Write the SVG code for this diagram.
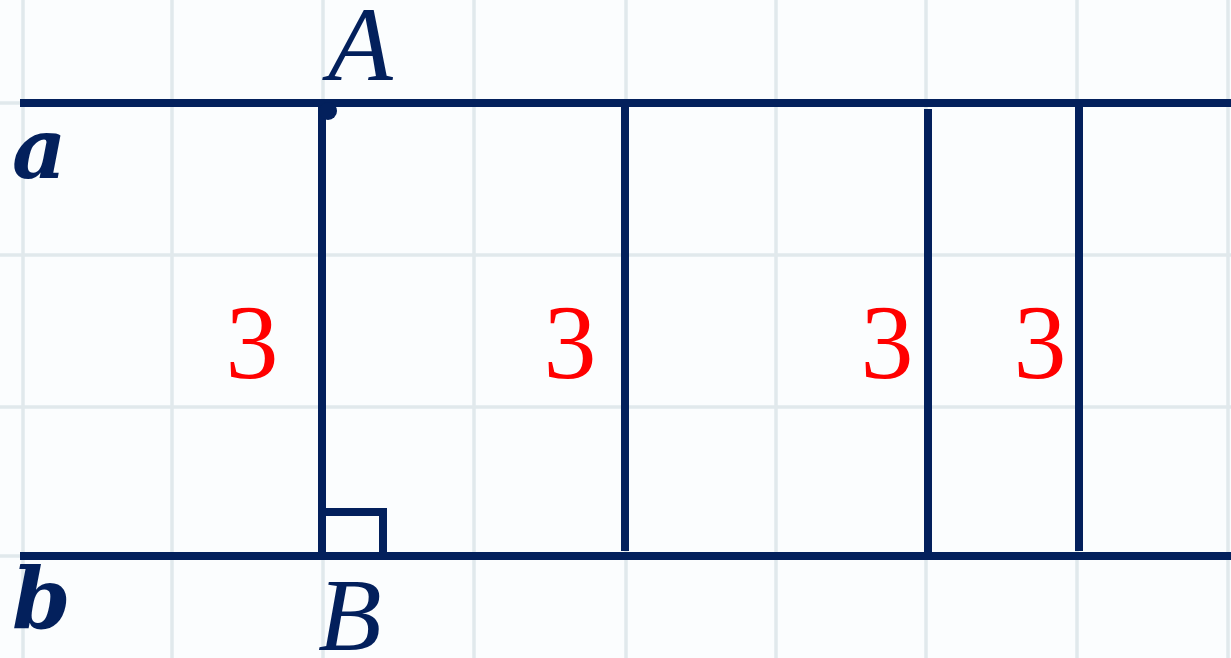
<svg xmlns="http://www.w3.org/2000/svg" width="1231" height="658" viewBox="0 0 1231 658">
<style>
.grid{stroke:#e1e9ec;stroke-width:3.5;fill:none}
.ln{stroke:#03205c;stroke-width:8;fill:none;stroke-linecap:butt}
.lbl{font-family:"Liberation Serif",serif;font-style:italic;fill:#03205c}
.var{font-family:"DejaVu Serif",serif;font-style:italic;font-weight:bold;fill:#03205c;font-size:84px}
.num{font-family:"Liberation Serif",serif;fill:#ff0000;font-size:106px;text-anchor:middle}
</style>
<rect width="1231" height="658" fill="#fbfdfe"/>
<g id="grid" class="grid">
<line x1="23" y1="0" x2="23" y2="658"/>
<line x1="172" y1="0" x2="172" y2="658"/>
<line x1="323" y1="0" x2="323" y2="658"/>
<line x1="474" y1="0" x2="474" y2="658"/>
<line x1="626" y1="0" x2="626" y2="658"/>
<line x1="776" y1="0" x2="776" y2="658"/>
<line x1="926" y1="0" x2="926" y2="658"/>
<line x1="1077" y1="0" x2="1077" y2="658"/>
<line x1="1228" y1="0" x2="1228" y2="658"/>
<line x1="0" y1="103" x2="1231" y2="103"/>
<line x1="0" y1="255" x2="1231" y2="255"/>
<line x1="0" y1="407" x2="1231" y2="407"/>
<line x1="0" y1="556" x2="1231" y2="556"/>
</g>
<g id="line-a"><line class="ln" x1="20" y1="103" x2="1231" y2="103"/></g>
<g id="line-b"><line class="ln" x1="20" y1="556" x2="1231" y2="556"/></g>
<g id="connectors">
<line class="ln" x1="322" y1="103" x2="322" y2="556"/>
<line class="ln" x1="625" y1="103" x2="625" y2="551"/>
<line class="ln" x1="928" y1="109" x2="928" y2="556"/>
<line class="ln" x1="1079" y1="103" x2="1079" y2="551"/>
<polyline class="ln" points="322,512 383,512 383,556"/>
</g>
<g id="point-A"><circle cx="328" cy="111" r="9" fill="#03205c"/></g>
<g id="labels">
<text class="lbl" x="328" y="80" font-size="106">A</text>
<text class="lbl" x="318" y="650" font-size="104">B</text>
<text class="var" x="12" y="178">a</text>
<text class="var" x="12" y="628">b</text>
<text class="num" x="252" y="378">3</text>
<text class="num" x="570" y="378">3</text>
<text class="num" x="887" y="378">3</text>
<text class="num" x="1040" y="378">3</text>
</g>
</svg>
